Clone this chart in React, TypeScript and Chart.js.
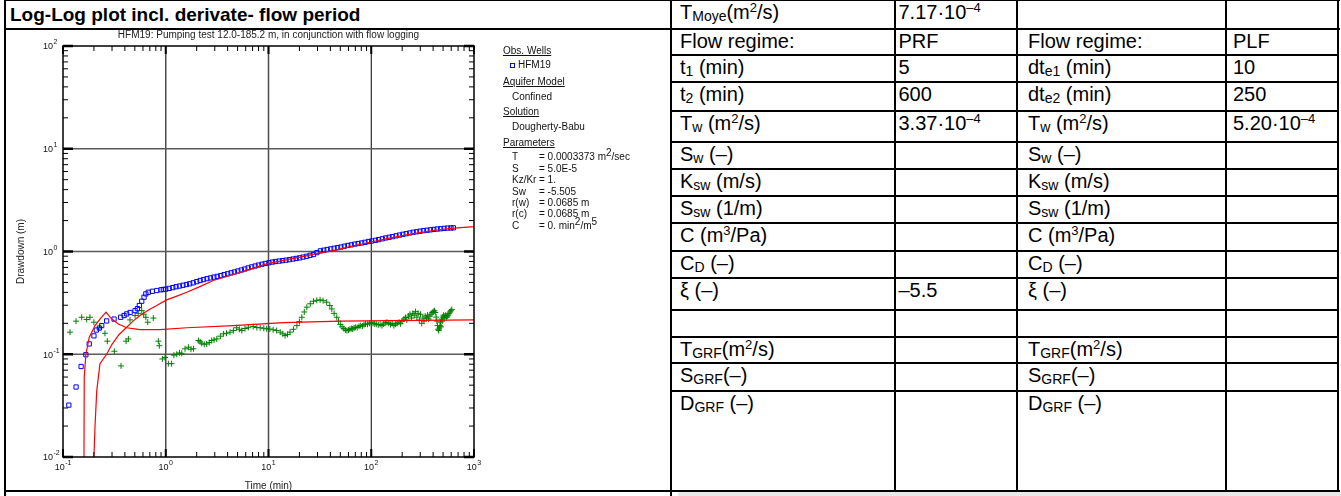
import React, { useEffect, useRef } from 'react';
import { Chart, registerables } from 'chart.js';

Chart.register(...registerables);

// ---------- chart data ----------
const obsTime = [
  0.114, 0.134, 0.15, 0.167, 0.18, 0.2, 0.211, 0.226, 0.238, 0.266, 0.314, 0.364, 0.393, 0.417, 0.45,
  0.503, 0.53, 0.553, 0.584, 0.615, 0.64, 0.677, 0.74, 0.817, 0.9, 0.948,
  1.0, 1.08, 1.17, 1.26, 1.36, 1.47, 1.59, 1.71, 1.85, 2.0, 2.16, 2.33, 2.52, 2.72, 2.94,
  3.17, 3.43, 3.7, 4.0, 4.32, 4.66, 5.03, 5.44, 5.87, 6.34, 6.85, 7.4, 7.99, 8.63, 9.32,
  10.1, 10.9, 11.7, 12.7, 13.7, 14.8, 16.0, 17.3, 18.6, 20.1, 21.7, 23.5, 25.4, 27.4, 29.6,
  32.0, 34.5, 37.3, 40.3, 43.5, 47.0, 50.7, 54.8, 59.2, 63.9, 69.0, 74.5, 80.5, 86.9, 93.9,
  101, 110, 118, 128, 138, 149, 161, 174, 188, 203, 219, 237, 256, 276, 298,
  322, 348, 376, 406, 438, 473, 511, 552, 596, 630,
];
const obsDrawdown = [
  0.032, 0.048, 0.076, 0.099, 0.126, 0.151, 0.172, 0.18, 0.19, 0.211, 0.22, 0.229, 0.238, 0.247, 0.255,
  0.266, 0.278, 0.298, 0.328, 0.359, 0.387, 0.401, 0.41, 0.417, 0.424, 0.427,
  0.43, 0.437, 0.445, 0.454, 0.461, 0.469, 0.477, 0.485, 0.496, 0.509, 0.522, 0.533, 0.544, 0.553, 0.563,
  0.572, 0.583, 0.596, 0.607, 0.62, 0.632, 0.646, 0.66, 0.675, 0.692, 0.708, 0.722, 0.738, 0.752, 0.765,
  0.778, 0.789, 0.799, 0.807, 0.815, 0.824, 0.834, 0.845, 0.856, 0.867, 0.882, 0.898, 0.918, 0.935, 0.975,
  1.015, 1.03, 1.045, 1.06, 1.075, 1.09, 1.105, 1.125, 1.145, 1.16, 1.18, 1.195, 1.21, 1.228, 1.25,
  1.265, 1.285, 1.305, 1.33, 1.355, 1.375, 1.395, 1.42, 1.445, 1.47, 1.49, 1.515, 1.54, 1.555, 1.575,
  1.595, 1.61, 1.625, 1.64, 1.655, 1.665, 1.68, 1.69, 1.695, 1.7,
];

const derivTime = [
  0.117, 0.134, 0.152, 0.17, 0.183, 0.2, 0.229, 0.256, 0.27, 0.316, 0.367, 0.411, 0.433, 0.449, 0.503,
  0.54, 0.584, 0.61, 0.64, 0.668, 0.757, 0.847, 0.866, 0.927, 0.985, 1.06, 1.14, 1.2, 1.28, 1.36,
  1.43, 1.54, 1.66, 1.76, 1.86, 2.08, 2.16, 2.24, 2.37, 2.5, 2.65, 2.8, 2.95, 3.14, 3.4,
  3.64, 3.9, 4.22, 4.55, 4.9, 5.2, 5.5, 5.9, 6.37, 7.1, 7.7, 8.3, 9.0, 9.6, 10.3,
  11.1, 12.0, 13.0, 13.8, 14.5, 15.3, 16.2, 17.5, 18.9, 20.0, 21.1, 22.3, 23.6, 25.5, 27.4,
  29.5, 31.8, 34.0, 36.8, 39.5, 41.3, 43.5, 46.2, 48.0,
  50, 52, 54, 56, 58, 60, 62, 64, 66, 68, 70, 73, 76, 79, 82,
  85, 88, 92, 96, 100, 104, 108, 112, 117, 122, 127, 132, 137, 142, 148,
  154, 160, 166, 172, 179, 186, 193, 200, 208, 215, 222, 230, 238, 246, 254,
  262, 270, 278, 286, 294, 302, 310, 318, 326, 335, 344, 353, 362, 372, 382,
  392, 402, 412, 420, 428, 435, 442, 448, 454, 460, 466, 472, 478, 484, 490,
  497, 504, 512, 520, 530, 540, 550, 560, 572, 584, 596, 608,
];
const derivValue = [
  0.164, 0.21, 0.229, 0.218, 0.229, 0.205, 0.183, 0.16, 0.134, 0.107, 0.077, 0.134, 0.141, 0.216, 0.238,
  0.25, 0.266, 0.245, 0.229, 0.205, 0.225, 0.134, 0.121, 0.09, 0.093, 0.081, 0.081, 0.098, 0.1, 0.103,
  0.102, 0.113, 0.117, 0.112, 0.113, 0.136, 0.132, 0.128, 0.125, 0.126, 0.13, 0.136, 0.138, 0.141, 0.15,
  0.158, 0.16, 0.164, 0.17, 0.181, 0.175, 0.17, 0.178, 0.183, 0.186, 0.182, 0.181, 0.179, 0.177, 0.176,
  0.173, 0.17, 0.164, 0.158, 0.152, 0.156, 0.164, 0.175, 0.19, 0.208, 0.229, 0.258, 0.287, 0.31, 0.328,
  0.335, 0.338, 0.332, 0.321, 0.298, 0.276, 0.25, 0.229, 0.21,
  0.195, 0.185, 0.178, 0.172, 0.17, 0.172, 0.175, 0.178, 0.176, 0.18, 0.183, 0.182, 0.187, 0.19, 0.188,
  0.194, 0.197, 0.196, 0.2, 0.203, 0.2, 0.198, 0.196, 0.193, 0.195, 0.19, 0.197, 0.202, 0.205, 0.2,
  0.195, 0.2, 0.19, 0.196, 0.2, 0.205, 0.198, 0.21, 0.22, 0.228, 0.215, 0.235, 0.245, 0.225, 0.25,
  0.24, 0.26, 0.23, 0.25, 0.215, 0.245, 0.2, 0.225, 0.21, 0.235, 0.225, 0.24, 0.22, 0.235, 0.245,
  0.255, 0.26, 0.265, 0.255, 0.23, 0.21, 0.19, 0.175, 0.17, 0.18, 0.19, 0.205, 0.185, 0.22, 0.21,
  0.23, 0.24, 0.225, 0.235, 0.24, 0.228, 0.235, 0.24, 0.25, 0.258, 0.265, 0.272,
];

const modelSTime = [
  0.196, 0.2, 0.205, 0.213, 0.229, 0.266, 0.3, 0.35, 0.417, 0.48, 0.562, 0.68, 0.817, 1.02, 1.3,
  1.6, 2.2, 2.9, 4.55, 6.5, 9.6, 14, 20.3, 30, 42.8, 65, 97.6, 150, 257, 400, 600, 1000,
];
const modelS = [
  0.004, 0.01, 0.02, 0.044, 0.081, 0.1, 0.125, 0.155, 0.183, 0.21, 0.238, 0.27, 0.298, 0.338, 0.37,
  0.401, 0.46, 0.522, 0.597, 0.67, 0.759, 0.82, 0.88, 0.96, 1.02, 1.13, 1.23, 1.35, 1.49, 1.6, 1.68, 1.75,
];

const modelDTime = [
  0.158, 0.16, 0.161, 0.167, 0.18, 0.205, 0.229, 0.262, 0.298, 0.346, 0.417, 0.562, 0.88, 1.6, 4.55,
  14, 49.8, 1000,
];
const modelD = [
  0.004, 0.01, 0.06, 0.1, 0.146, 0.19, 0.22, 0.257, 0.22, 0.197, 0.181, 0.174, 0.174, 0.181, 0.19,
  0.203, 0.21, 0.216,
];

const xDecades = [0.1, 1, 10, 100, 1000];
const xExponents = ['-1', '0', '1', '2', '3'];
const yDecades = [0.01, 0.1, 1, 10, 100];
const yExponents = ['-2', '-1', '0', '1', '2'];
const minorMultipliers = [2, 3, 4, 5, 6, 7, 8, 9];

const chartTitle = 'HFM19: Pumping test 12.0-185.2 m, in conjunction with flow logging';
const xAxisTitle = 'Time (min)';
const yAxisTitle = 'Drawdown (m)';

// ---------- table data ----------
const tableCol1 = [
  'T_{Moye}(m^{2}/s)', 'Flow regime:', 't_{1} (min)', 't_{2} (min)', 'T_{w} (m^{2}/s)', 'S_{w} (–)',
  'K_{sw} (m/s)', 'S_{sw} (1/m)', 'C (m^{3}/Pa)', 'C_{D} (–)', 'ξ (–)', '', 'T_{GRF}(m^{2}/s)',
  'S_{GRF}(–)', 'D_{GRF} (–)',
];
const tableCol2 = ['7.17·10^{–4}', 'PRF', '5', '600', '3.37·10^{–4}', '', '', '', '', '', '–5.5', '', '', '', ''];
const tableCol3 = [
  '', 'Flow regime:', 'dt_{e1} (min)', 'dt_{e2} (min)', 'T_{w} (m^{2}/s)', 'S_{w} (–)', 'K_{sw} (m/s)',
  'S_{sw} (1/m)', 'C (m^{3}/Pa)', 'C_{D} (–)', 'ξ (–)', '', 'T_{GRF}(m^{2}/s)', 'S_{GRF}(–)', 'D_{GRF} (–)',
];
const tableCol4 = ['', 'PLF', '10', '250', '5.20·10^{–4}', '', '', '', '', '', '', '', '', '', ''];

const legendParams = [
  ['T', '= 0.0003373 m^{2}/sec'],
  ['S', '= 5.0E-5'],
  ['Kz/Kr', '= 1.'],
  ['Sw', '= -5.505'],
  ['r(w)', '= 0.0685 m'],
  ['r(c)', '= 0.0685 m'],
  ['C', '= 0. min^{2}/m^{5}'],
];

// ---------- layout ----------
const FONT = '"Liberation Sans", Arial, Helvetica, sans-serif';
const rowLines = [0, 29, 55, 82, 110.7, 141.7, 169, 195.7, 223.3, 250.7, 278.3, 310, 336.7, 363.3, 391, 491];
const colLines = [671, 895, 1017, 1226, 1338];
const colPad = [9, 3.5, 11, 7];

const CANVAS_LEFT = 6;
const CANVAS_TOP = 30;
const CANVAS_W = 664;
const CANVAS_H = 460;

function rich(s: string, subStyle: React.CSSProperties, supStyle: React.CSSProperties) {
  const out: React.ReactNode[] = [];
  let i = 0;
  let buf = '';
  let k = 0;
  while (i < s.length) {
    const ch = s[i];
    if ((ch === '_' || ch === '^') && s[i + 1] === '{') {
      if (buf) {
        out.push(buf);
        buf = '';
      }
      const end = s.indexOf('}', i);
      out.push(
        <span key={k++} style={ch === '_' ? subStyle : supStyle}>
          {s.slice(i + 2, end)}
        </span>
      );
      i = end + 1;
    } else {
      buf += ch;
      i++;
    }
  }
  if (buf) out.push(buf);
  return out;
}

const tSub: React.CSSProperties = { fontSize: 14, position: 'relative', top: 2 };
const tSup: React.CSSProperties = { fontSize: 13, position: 'relative', top: -7 };
const lSub: React.CSSProperties = { fontSize: 8, position: 'relative', top: 2 };
const lSup: React.CSSProperties = { fontSize: 10, position: 'relative', top: -4 };

const axesPlugin = {
  id: 'loglogAxes',
  beforeDatasetsDraw(chart: any) {
    const { ctx, chartArea: a, scales } = chart;
    const x = scales.x;
    const y = scales.y;
    ctx.save();
    xDecades.slice(1, -1).forEach((v) => {
      const px = x.getPixelForValue(v);
      ctx.strokeStyle = v === 100 ? '#000000' : '#4d4d4d';
      ctx.lineWidth = v === 100 ? 1 : 1.5;
      ctx.beginPath();
      ctx.moveTo(px, a.top);
      ctx.lineTo(px, a.bottom);
      ctx.stroke();
    });
    yDecades.slice(1, -1).forEach((v) => {
      const py = y.getPixelForValue(v);
      ctx.strokeStyle = '#5a5a5a';
      ctx.lineWidth = 1.5;
      ctx.beginPath();
      ctx.moveTo(a.left, py);
      ctx.lineTo(a.right, py);
      ctx.stroke();
    });
    ctx.restore();
  },
  afterDatasetsDraw(chart: any) {
    const { ctx, chartArea: a, scales } = chart;
    const x = scales.x;
    const y = scales.y;
    ctx.save();
    const seg = (x1: number, y1: number, x2: number, y2: number) => {
      ctx.beginPath();
      ctx.moveTo(x1, y1);
      ctx.lineTo(x2, y2);
      ctx.stroke();
    };
    // minor ticks
    ctx.strokeStyle = '#000';
    ctx.lineWidth = 1;
    xDecades.slice(0, -1).forEach((d) => {
      minorMultipliers.forEach((m) => {
        const px = x.getPixelForValue(d * m);
        seg(px, a.top, px, a.top + 5);
        seg(px, a.bottom, px, a.bottom - 5);
      });
    });
    yDecades.slice(0, -1).forEach((d) => {
      minorMultipliers.forEach((m) => {
        const py = y.getPixelForValue(d * m);
        seg(a.left, py, a.left + 5, py);
        seg(a.right, py, a.right - 5, py);
      });
    });
    // major ticks
    ctx.lineWidth = 2.5;
    yDecades.forEach((d) => {
      const py = y.getPixelForValue(d);
      seg(a.left, py, a.left + 10, py);
      seg(a.right, py, a.right - 10, py);
    });
    ctx.lineWidth = 2;
    xDecades.forEach((d) => {
      const px = x.getPixelForValue(d);
      seg(px, a.top, px, a.top + 8);
      seg(px, a.bottom, px, a.bottom - 8);
    });
    // frame
    ctx.lineWidth = 1.5;
    ctx.strokeRect(a.left, a.top, a.right - a.left, a.bottom - a.top);

    // tick labels
    ctx.fillStyle = '#111';
    ctx.textBaseline = 'middle';
    const big = `9px ${FONT}`;
    const small = `7px ${FONT}`;
    yDecades.forEach((d, i) => {
      const py = y.getPixelForValue(d);
      ctx.font = big;
      ctx.textAlign = 'right';
      ctx.fillText('10', a.left - 10, py + 1);
      ctx.font = small;
      ctx.textAlign = 'left';
      ctx.fillText(yExponents[i], a.left - 9.5, py - 3.5);
    });
    xDecades.forEach((d, i) => {
      const px = x.getPixelForValue(d);
      ctx.font = big;
      const w1 = ctx.measureText('10').width;
      ctx.font = small;
      const w2 = ctx.measureText(xExponents[i]).width;
      const start = px - (w1 + w2 + 0.5) / 2;
      ctx.textAlign = 'left';
      ctx.font = big;
      ctx.fillText('10', start, a.bottom + 11);
      ctx.font = small;
      ctx.fillText(xExponents[i], start + w1 + 0.5, a.bottom + 6);
    });

    // titles
    ctx.font = `10px ${FONT}`;
    ctx.textAlign = 'center';
    ctx.fillStyle = '#222';
    const cx = (a.left + a.right) / 2;
    const cy = (a.top + a.bottom) / 2;
    ctx.fillText(chartTitle, cx, 5);
    ctx.fillText(xAxisTitle, cx, a.bottom + 29);
    ctx.translate(15, cy);
    ctx.rotate(-Math.PI / 2);
    ctx.fillText(yAxisTitle, 0, 0);
    ctx.restore();
  },
};

function LogLogChart() {
  const ref = useRef<HTMLCanvasElement>(null);
  useEffect(() => {
    if (!ref.current) return;
    const chart = new Chart(ref.current, {
      type: 'scatter',
      data: {
        datasets: [
          {
            label: 'Model drawdown',
            data: modelSTime.map((t, i) => ({ x: t, y: modelS[i] })),
            showLine: true,
            borderColor: '#ff0000',
            borderWidth: 1.2,
            pointRadius: 0,
            tension: 0,
          },
          {
            label: 'Model derivative',
            data: modelDTime.map((t, i) => ({ x: t, y: modelD[i] })),
            showLine: true,
            borderColor: '#ff0000',
            borderWidth: 1.2,
            pointRadius: 0,
            tension: 0,
          },
          {
            label: 'HFM19',
            data: obsTime.map((t, i) => ({ x: t, y: obsDrawdown[i] })),
            pointStyle: 'rect',
            pointRadius: 3,
            borderColor: '#0000ff',
            backgroundColor: 'rgba(0,0,0,0)',
            borderWidth: 1,
          },
          {
            label: 'Derivative',
            data: derivTime.map((t, i) => ({ x: t, y: derivValue[i] })),
            pointStyle: 'cross',
            pointRadius: 3,
            borderColor: '#008000',
            backgroundColor: '#008000',
            borderWidth: 1,
          },
        ],
      },
      options: {
        responsive: false,
        animation: false,
        devicePixelRatio: 1,
        events: [],
        layout: { padding: { left: 57, top: 16, right: 196, bottom: 33 } },
        plugins: { legend: { display: false }, tooltip: { enabled: false }, title: { display: false } },
        scales: {
          x: { type: 'logarithmic', min: 0.1, max: 1000, display: false },
          y: { type: 'logarithmic', min: 0.01, max: 100, display: false },
        },
      },
      plugins: [axesPlugin],
    } as any);
    return () => chart.destroy();
  }, []);
  return (
    <canvas
      ref={ref}
      width={CANVAS_W}
      height={CANVAS_H}
      style={{ position: 'absolute', left: CANVAS_LEFT, top: CANVAS_TOP, width: CANVAS_W, height: CANVAS_H }}
    />
  );
}

function Legend() {
  const base: React.CSSProperties = {
    position: 'absolute',
    fontFamily: FONT,
    fontSize: 10,
    lineHeight: '12px',
    color: '#111',
    whiteSpace: 'nowrap',
  };
  const head = (text: string, top: number) => (
    <div style={{ ...base, left: 503, top, textDecoration: 'underline' }}>{text}</div>
  );
  const paramTops = [151, 163, 174, 185.7, 197, 208, 220];
  return (
    <>
      {head('Obs. Wells', 44.7)}
      <div
        style={{ position: 'absolute', left: 510, top: 63, width: 3, height: 3, border: '1px solid #0000ff' }}
      />
      <div style={{ ...base, left: 518, top: 59 }}>HFM19</div>
      {head('Aquifer Model', 76.3)}
      <div style={{ ...base, left: 512, top: 90.7 }}>Confined</div>
      {head('Solution', 106)}
      <div style={{ ...base, left: 512, top: 120.7 }}>Dougherty-Babu</div>
      {head('Parameters', 137)}
      {legendParams.map((p, i) => (
        <React.Fragment key={i}>
          <div style={{ ...base, left: 512, top: paramTops[i] }}>{p[0]}</div>
          <div style={{ ...base, left: 539, top: paramTops[i] }}>{rich(p[1], lSub, lSup)}</div>
        </React.Fragment>
      ))}
    </>
  );
}

function Table() {
  const cols = [tableCol1, tableCol2, tableCol3, tableCol4];
  const cells: React.ReactNode[] = [];
  cols.forEach((col, c) => {
    col.forEach((txt, r) => {
      if (!txt) return;
      cells.push(
        <div
          key={`${c}-${r}`}
          style={{
            position: 'absolute',
            left: colLines[c] + colPad[c],
            top: rowLines[r] + 2,
            fontFamily: FONT,
            fontSize: 20,
            lineHeight: '20px',
            whiteSpace: 'nowrap',
            color: '#000',
          }}
        >
          {rich(txt, tSub, tSup)}
        </div>
      );
    });
  });
  const lines: React.ReactNode[] = [];
  lines.push(<div key="vl" style={{ position: 'absolute', left: 4, top: 0, width: 2, height: 496, background: '#000' }} />);
  colLines.forEach((x, i) => {
    lines.push(
      <div
        key={`v${i}`}
        style={{ position: 'absolute', left: x - 1, top: 0, width: 2, height: i === 0 ? 496 : 492, background: '#000' }}
      />
    );
  });
  lines.push(<div key="htop" style={{ position: 'absolute', left: 4, top: 0, width: 1336, height: 1, background: '#000' }} />);
  lines.push(<div key="ht" style={{ position: 'absolute', left: 4, top: 28, width: 1336, height: 2, background: '#000' }} />);
  rowLines.slice(2, -1).forEach((y, i) => {
    lines.push(
      <div key={`h${i}`} style={{ position: 'absolute', left: 671, top: y - 1, width: 668, height: 2, background: '#000' }} />
    );
  });
  lines.push(<div key="hb" style={{ position: 'absolute', left: 4, top: 490, width: 1336, height: 2, background: '#000' }} />);
  return (
    <>
      <div style={{ position: 'absolute', left: 678, top: 492, width: 663, height: 4, background: '#e8e8e8' }} />
      {cells}
      {lines}
    </>
  );
}

export default function App() {
  return (
    <div
      style={{
        position: 'absolute',
        left: 0,
        top: 0,
        width: 1341,
        height: 496,
        background: '#fff',
        overflow: 'hidden',
      }}
    >
      <div
        style={{
          position: 'absolute',
          left: 10,
          top: 4,
          fontFamily: FONT,
          fontWeight: 'bold',
          fontSize: 19,
          lineHeight: '22px',
          whiteSpace: 'nowrap',
          color: '#000',
        }}
      >
        Log-Log plot incl. derivate- flow period
      </div>
      <LogLogChart />
      <Legend />
      <Table />
    </div>
  );
}
